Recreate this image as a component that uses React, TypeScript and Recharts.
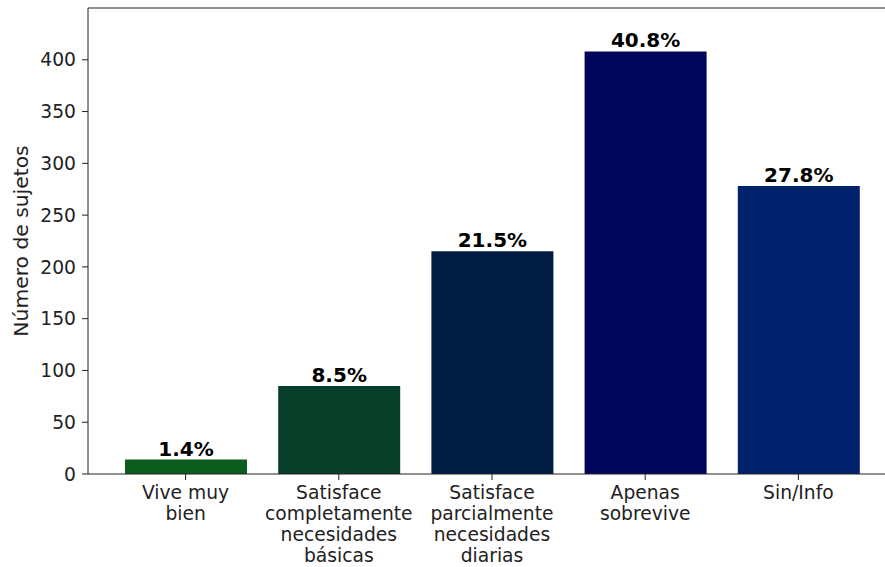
import React from 'react';
import {
  BarChart,
  Bar,
  XAxis,
  YAxis,
  Cell,
  LabelList,
  ReferenceLine,
} from 'recharts';

const categories = [
  'Vive muy\nbien',
  'Satisface\ncompletamente\nnecesidades\nbásicas',
  'Satisface\nparcialmente\nnecesidades\ndiarias',
  'Apenas\nsobrevive',
  'Sin/Info',
];
const counts = [14, 85, 215, 408, 278];
const barColors = ['#0b5c1f', '#063e2a', '#001c42', '#00055a', '#00226c'];
const yTicks = [0, 50, 100, 150, 200, 250, 300, 350, 400];

const total = counts.reduce((a, b) => a + b, 0);
const data = categories.map((name, i) => ({
  name,
  count: counts[i],
  pct: `${((counts[i] / total) * 100).toFixed(1)}%`,
}));

const FONT = '"DejaVu Sans", sans-serif';
const INK = '#222';

const CategoryTick = (props: any) => {
  const { x, y, payload } = props;
  const lines = String(payload.value).split('\n');
  return (
    <text x={x} y={y} textAnchor="middle" fill={INK} fontSize={18.7} fontFamily={FONT}>
      {lines.map((line, i) => (
        <tspan key={i} x={x} dy={i === 0 ? '0.71em' : 21}>
          {line}
        </tspan>
      ))}
    </text>
  );
};

const PctLabel = (props: any) => {
  const { x, y, width, value } = props;
  return (
    <text
      x={x + width / 2}
      y={y - 4}
      textAnchor="middle"
      fill="#000"
      fontSize={20}
      fontWeight="bold"
      fontFamily={FONT}
    >
      {value}
    </text>
  );
};

const YLabel = (props: any) => {
  const { viewBox } = props;
  const cx = 28;
  const cy = viewBox.y + viewBox.height / 2;
  return (
    <text
      x={cx}
      y={cy}
      transform={`rotate(-90, ${cx}, ${cy})`}
      textAnchor="middle"
      fill={INK}
      fontSize={20.3}
      fontFamily={FONT}
    >
      Número de sujetos
    </text>
  );
};

const App: React.FC = () => {
  return (
    <div
      style={{
        position: 'absolute',
        left: 0,
        top: 0,
        width: 885,
        height: 567,
        overflow: 'hidden',
        background: '#fff',
      }}
    >
      <BarChart
        width={900}
        height={567}
        data={data}
        margin={{ top: 8, right: 4, left: 0, bottom: 0 }}
      >
        <XAxis
          dataKey="name"
          height={93}
          padding={{ left: 21, right: 21 }}
          tickSize={6}
          tickMargin={6}
          stroke={INK}
          tick={<CategoryTick />}
          interval={0}
        />
        <YAxis
          width={88}
          domain={[0, 450]}
          ticks={yTicks}
          tickSize={6}
          tickMargin={6}
          stroke={INK}
          tick={{ fontSize: 18.7, fill: INK, fontFamily: FONT }}
          label={<YLabel />}
        />
        <ReferenceLine y={450} stroke={INK} />
        <Bar dataKey="count" barSize={122} isAnimationActive={false}>
          {data.map((d, i) => (
            <Cell key={d.name} fill={barColors[i]} />
          ))}
          <LabelList dataKey="pct" content={<PctLabel />} />
        </Bar>
      </BarChart>
    </div>
  );
};

export default App;
